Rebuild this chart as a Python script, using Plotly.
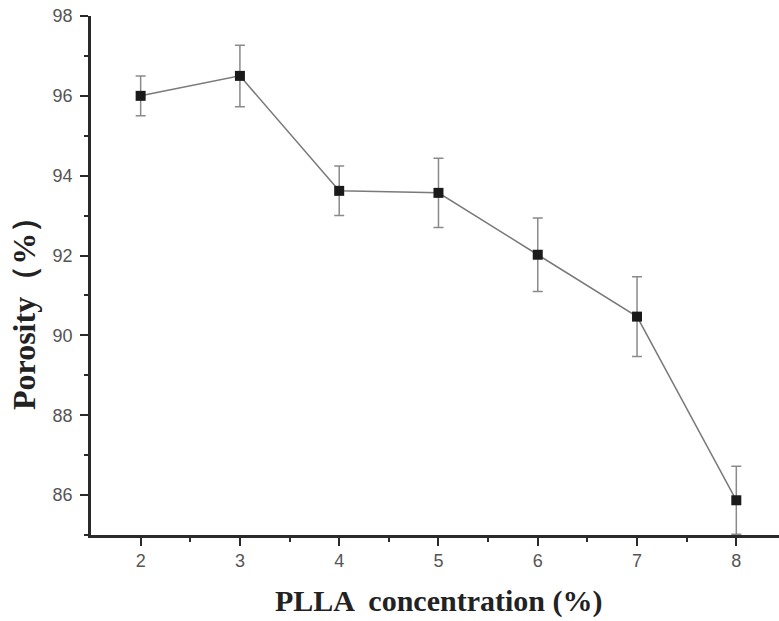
import plotly.graph_objects as go

conc = [2, 3, 4, 5, 6, 7, 8]
porosity = [96.0, 96.5, 93.62, 93.57, 92.02, 90.47, 85.87]
err = [0.5, 0.77, 0.62, 0.87, 0.92, 1.0, 0.85]

x_title = "PLLA  concentration (%)"
y_title = "Porosity（%）"

fig = go.Figure()
fig.add_trace(go.Scatter(
    x=conc, y=porosity, mode="lines+markers",
    line=dict(color="#7a7a7a", width=1.5),
    marker=dict(symbol="square", size=10, color="#1a1a1a"),
    error_y=dict(type="data", array=err, visible=True, color="#8a8a8a", thickness=1.5, width=5),
    showlegend=False, cliponaxis=True,
))

fig.update_layout(
    width=779, height=621,
    margin=dict(l=91, r=0, t=16, b=86),
    paper_bgcolor="white", plot_bgcolor="white",
    font=dict(family="Liberation Sans, Arial", size=18, color="#555555"),
)
fig.update_xaxes(
    range=[1.5, 8.43], tickvals=conc, ticks="outside", ticklen=8, tickwidth=2,
    tickcolor="#2a2a2a", showline=True, linecolor="#2a2a2a", linewidth=2.5,
    showgrid=False, zeroline=False,
    minor=dict(tickvals=[2.5, 3.5, 4.5, 5.5, 6.5, 7.5], ticks="outside", ticklen=4, tickwidth=2, tickcolor="#2a2a2a"),
    tickfont=dict(size=18, color="#555555"),
)
fig.update_yaxes(
    range=[85, 98], tickvals=[86, 88, 90, 92, 94, 96, 98], ticks="outside", ticklen=8, tickwidth=2,
    tickcolor="#2a2a2a", showline=True, linecolor="#2a2a2a", linewidth=2.5,
    showgrid=False, zeroline=False, ticklabelstandoff=4,
    minor=dict(tickvals=[85, 87, 89, 91, 93, 95, 97], ticks="outside", ticklen=4, tickwidth=2, tickcolor="#2a2a2a"),
    tickfont=dict(size=18, color="#555555"),
)
fig.add_annotation(
    text="<b>" + x_title + "</b>", xref="paper", yref="paper", x=(438 - 91) / 688, y=0,
    yshift=-(601 - 535), xanchor="center", yanchor="middle", showarrow=False,
    font=dict(family="Liberation Serif, Times New Roman", size=30, color="#222222"),
)
fig.add_annotation(
    text="<b>" + y_title + "</b>", xref="paper", yref="paper", x=0, y=(535 - 306) / 519,
    xshift=-(91 - 24), xanchor="center", yanchor="middle", textangle=-90, showarrow=False,
    font=dict(family="Liberation Serif, Times New Roman", size=32, color="#222222"),
)
fig.write_html("out.html")
